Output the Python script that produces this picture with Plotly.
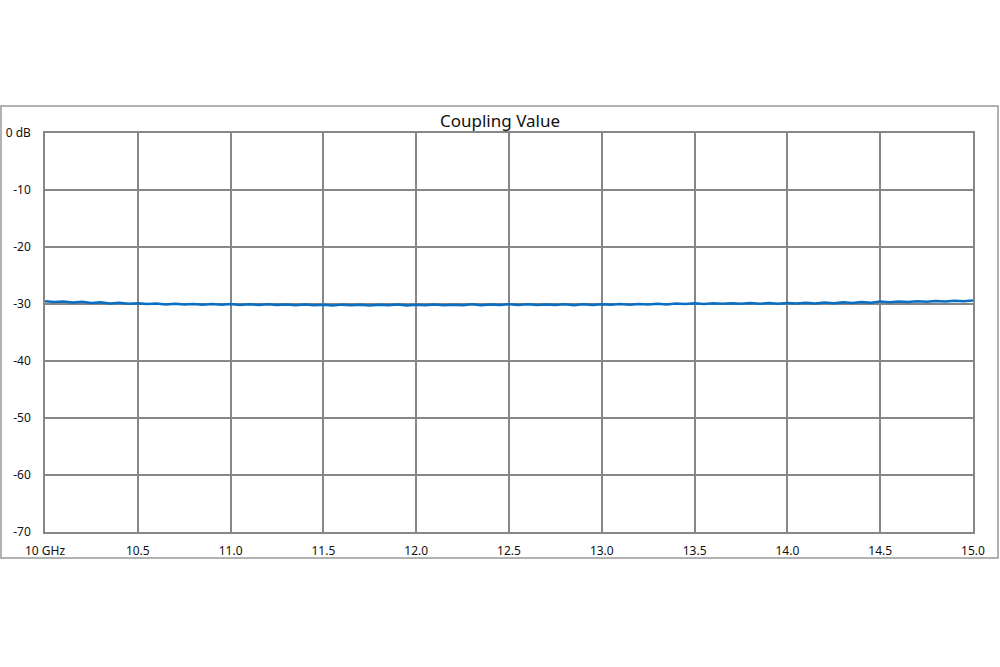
import plotly.graph_objects as go

freq_ghz = [10.00, 10.05, 10.10, 10.15, 10.20, 10.25, 10.30, 10.35, 10.40, 10.45,
            10.50, 10.55, 10.60, 10.65, 10.70, 10.75, 10.80, 10.85, 10.90, 10.95,
            11.00, 11.05, 11.10, 11.15, 11.20, 11.25, 11.30, 11.35, 11.40, 11.45,
            11.50, 11.55, 11.60, 11.65, 11.70, 11.75, 11.80, 11.85, 11.90, 11.95,
            12.00, 12.05, 12.10, 12.15, 12.20, 12.25, 12.30, 12.35, 12.40, 12.45,
            12.50, 12.55, 12.60, 12.65, 12.70, 12.75, 12.80, 12.85, 12.90, 12.95,
            13.00, 13.05, 13.10, 13.15, 13.20, 13.25, 13.30, 13.35, 13.40, 13.45,
            13.50, 13.55, 13.60, 13.65, 13.70, 13.75, 13.80, 13.85, 13.90, 13.95,
            14.00, 14.05, 14.10, 14.15, 14.20, 14.25, 14.30, 14.35, 14.40, 14.45,
            14.50, 14.55, 14.60, 14.65, 14.70, 14.75, 14.80, 14.85, 14.90, 14.95,
            15.00]

coupling_db = [-29.50, -29.66, -29.55, -29.74, -29.62, -29.84, -29.70, -29.90, -29.78, -29.95,
               -29.86, -30.02, -29.90, -30.08, -29.96, -30.10, -29.98, -30.12, -30.00, -30.14,
               -30.02, -30.16, -30.03, -30.18, -30.06, -30.19, -30.08, -30.22, -30.10, -30.24,
               -30.12, -30.26, -30.11, -30.23, -30.12, -30.27, -30.14, -30.22, -30.10, -30.25,
               -30.13, -30.23, -30.09, -30.24, -30.11, -30.20, -30.06, -30.22, -30.08, -30.18,
               -30.05, -30.17, -30.04, -30.16, -30.07, -30.19, -30.03, -30.21, -30.05, -30.16,
               -30.06, -30.15, -30.00, -30.13, -29.98, -30.09, -29.94, -30.07, -29.90, -30.02,
               -29.88, -29.99, -29.86, -29.97, -29.85, -29.95, -29.82, -29.94, -29.84, -29.96,
               -29.83, -29.92, -29.79, -29.90, -29.74, -29.87, -29.70, -29.84, -29.66, -29.78,
               -29.58, -29.70, -29.55, -29.66, -29.50, -29.62, -29.46, -29.58, -29.44, -29.52,
               -29.40]

x_tickvals = [10.0, 10.5, 11.0, 11.5, 12.0, 12.5, 13.0, 13.5, 14.0, 14.5, 15.0]
x_ticktext = ["10 GHz", "10.5", "11.0", "11.5", "12.0", "12.5", "13.0", "13.5", "14.0", "14.5", "15.0"]
y_tickvals = [0, -10, -20, -30, -40, -50, -60, -70]
y_ticktext = ["0 dB", "-10", "-20", "-30", "-40", "-50", "-60", "-70"]

GRID = "#878787"
FONT = "Noto Sans"

fig = go.Figure()
fig.add_trace(go.Scatter(
    x=freq_ghz, y=coupling_db, mode="lines",
    line=dict(color="#0a6fc2", width=2.5),
    showlegend=False, hoverinfo="skip",
))

fig.update_layout(
    width=1000, height=667,
    margin=dict(l=45, r=27, t=133, b=135, autoexpand=False),
    paper_bgcolor="white", plot_bgcolor="white",
    title=dict(text="Coupling Value", x=0.5, xanchor="center", y=1 - 121 / 667, yanchor="middle",
               font=dict(family=FONT, size=17, color="#111111")),
    font=dict(family=FONT, size=12, color="#111111"),
    xaxis=dict(range=[10, 15], tickvals=x_tickvals, ticktext=x_ticktext,
               showgrid=True, gridcolor=GRID, gridwidth=1.5,
               showline=True, linecolor=GRID, linewidth=1.5, mirror=True,
               zeroline=False, ticks="", ticklabelstandoff=7, automargin=False,
               tickfont=dict(family=FONT, size=12, color="#111111")),
    yaxis=dict(range=[-70, 0], tickvals=y_tickvals, ticktext=y_ticktext,
               showgrid=True, gridcolor=GRID, gridwidth=1.5,
               showline=True, linecolor=GRID, linewidth=1.5, mirror=True,
               zeroline=False, ticks="", ticklabelstandoff=10, automargin=False,
               tickfont=dict(family=FONT, size=12, color="#111111")),
    shapes=[dict(type="rect", xref="paper", yref="paper",
                 x0=-44 / 928, x1=953 / 928, y0=-26 / 399, y1=426 / 399,
                 line=dict(color="#999999", width=1.5), fillcolor="rgba(0,0,0,0)", layer="below")],
)

fig.write_html("out.html", config={"displayModeBar": False},
               post_script="document.body.style.margin='0';")
